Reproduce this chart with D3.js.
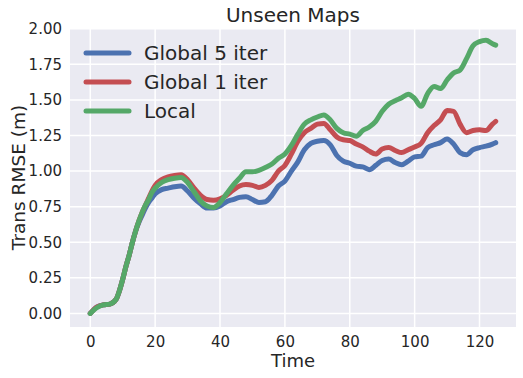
<!DOCTYPE html>
<html>
<head>
<meta charset="utf-8">
<script src="https://cdn.jsdelivr.net/npm/d3@7"></script>
<style>
  body { margin: 0; background: #fff; }
  text { font-family: "DejaVu Sans", sans-serif; fill: #262626; }
</style>
</head>
<body>
<div id="canvas"></div>
<script>
// data
const times = [0, 2, 4, 6, 8, 9, 10, 11, 12, 13, 14, 15, 16, 17, 18, 19, 20, 22, 24, 26, 28, 30, 32, 34, 36, 38,
  40, 42, 44, 46, 48, 50, 52, 54, 56, 58, 60, 62, 64, 66, 68, 70, 72, 74, 76, 78, 80, 82, 84, 86, 88, 90,
  92, 94, 96, 98, 100, 102, 104, 106, 108, 110, 112, 114, 116, 118, 120, 122, 124, 125];

const global5 = [0, 0.045, 0.06, 0.065, 0.10, 0.16, 0.24, 0.33, 0.41, 0.50, 0.58, 0.64, 0.69, 0.74, 0.78, 0.81, 0.84, 0.87, 0.88, 0.89, 0.895, 0.86, 0.81, 0.77, 0.74, 0.74,
  0.755, 0.785, 0.80, 0.815, 0.82, 0.80, 0.78, 0.785, 0.83, 0.895, 0.93, 1.00, 1.065, 1.15, 1.195, 1.21, 1.215, 1.185, 1.11, 1.07, 1.055, 1.035, 1.03, 1.01, 1.04, 1.075,
  1.085, 1.06, 1.045, 1.07, 1.10, 1.105, 1.165, 1.185, 1.20, 1.225, 1.19, 1.13, 1.115, 1.15, 1.165, 1.175, 1.19, 1.20];

const global1 = [0, 0.045, 0.06, 0.065, 0.10, 0.16, 0.24, 0.33, 0.41, 0.50, 0.58, 0.65, 0.71, 0.76, 0.81, 0.86, 0.90, 0.94, 0.96, 0.97, 0.975, 0.94, 0.88, 0.83, 0.80, 0.795,
  0.805, 0.83, 0.865, 0.895, 0.905, 0.90, 0.885, 0.90, 0.935, 1.00, 1.04, 1.12, 1.21, 1.27, 1.30, 1.33, 1.335, 1.29, 1.24, 1.22, 1.215, 1.19, 1.17, 1.14, 1.12, 1.155,
  1.165, 1.145, 1.13, 1.15, 1.17, 1.195, 1.27, 1.32, 1.36, 1.425, 1.42, 1.33, 1.27, 1.285, 1.29, 1.285, 1.33, 1.35];

const local = [0, 0.04, 0.06, 0.065, 0.10, 0.16, 0.24, 0.33, 0.41, 0.50, 0.58, 0.65, 0.71, 0.76, 0.80, 0.85, 0.88, 0.92, 0.94, 0.95, 0.955, 0.92, 0.855, 0.79, 0.755, 0.745,
  0.78, 0.84, 0.90, 0.95, 0.995, 0.995, 1.005, 1.025, 1.05, 1.09, 1.12, 1.18, 1.26, 1.33, 1.36, 1.38, 1.395, 1.36, 1.30, 1.27, 1.26, 1.245, 1.285, 1.31, 1.35, 1.42,
  1.47, 1.495, 1.515, 1.54, 1.51, 1.455, 1.545, 1.595, 1.58, 1.64, 1.69, 1.71, 1.79, 1.88, 1.91, 1.92, 1.895, 1.885];

const seriesNames = ["Global 5 iter", "Global 1 iter", "Local"];
const seriesColors = ["#4C72B0", "#C44E52", "#55A868"];
const xTicks = [0, 20, 40, 60, 80, 100, 120];
const yTicks = [0, 0.25, 0.5, 0.75, 1.0, 1.25, 1.5, 1.75, 2.0];

const width = 523;
const height = 378;
const margin = { top: 28, left: 70, bottom: 51, right: 7 };
const innerWidth = width - margin.left - margin.right;
const innerHeight = height - margin.top - margin.bottom;

const svg = d3.select("#canvas").append("svg")
  .attr("width", width)
  .attr("height", height);

const x = d3.scaleLinear().domain([-6.25, 131.25]).range([0, innerWidth]);
const y = d3.scaleLinear().domain([-0.0955, 2.0055]).range([innerHeight, 0]);

const g = svg.append("g").attr("transform", `translate(${margin.left},${margin.top})`);

g.append("rect")
  .attr("width", innerWidth)
  .attr("height", innerHeight)
  .attr("fill", "#EAEAF2");

// grid
g.selectAll(".vgrid").data(xTicks).enter().append("line")
  .attr("x1", d => x(d)).attr("x2", d => x(d))
  .attr("y1", 0).attr("y2", innerHeight)
  .attr("stroke", "#fff").attr("stroke-width", 1.5);

g.selectAll(".hgrid").data(yTicks).enter().append("line")
  .attr("y1", d => y(d)).attr("y2", d => y(d))
  .attr("x1", 0).attr("x2", innerWidth)
  .attr("stroke", "#fff").attr("stroke-width", 1.5);

// axes (no ticks / domain, seaborn style)
const xAxis = g.append("g")
  .attr("transform", `translate(0, ${innerHeight})`)
  .call(d3.axisBottom(x).tickValues(xTicks).tickSize(0).tickPadding(9));
const yAxis = g.append("g")
  .call(d3.axisLeft(y).tickValues(yTicks).tickFormat(d3.format(".2f")).tickSize(0).tickPadding(8));

[xAxis, yAxis].forEach(a => {
  a.select(".domain").remove();
  a.selectAll("text").style("font-family", "DejaVu Sans, sans-serif").style("font-size", "15px").attr("fill", "#262626");
});

// lines
const rows = [global5, global1, local];
const line = d3.line()
  .x((d, i) => x(times[i]))
  .y(d => y(d))
  .curve(d3.curveMonotoneX);

g.selectAll(".series").data(rows).enter().append("path")
  .attr("d", d => line(d))
  .attr("fill", "none")
  .attr("stroke", (d, i) => seriesColors[i])
  .attr("stroke-width", 5)
  .attr("stroke-linejoin", "round")
  .attr("stroke-linecap", "round");

// legend
const legend = g.append("g").attr("transform", "translate(16, 25)");
seriesNames.forEach((name, i) => {
  const row = legend.append("g").attr("transform", `translate(0, ${i * 29})`);
  row.append("line")
    .attr("x1", 0).attr("x2", 43)
    .attr("stroke", seriesColors[i]).attr("stroke-width", 5)
    .attr("stroke-linecap", "round");
  row.append("text")
    .attr("x", 58).attr("y", 0)
    .attr("dy", "0.36em")
    .style("font-size", "20px")
    .text(name);
});

// title and labels
svg.append("text")
  .attr("x", margin.left + innerWidth / 2)
  .attr("y", 21.5)
  .attr("text-anchor", "middle")
  .style("font-size", "20px")
  .text("Unseen Maps");

svg.append("text")
  .attr("x", margin.left + innerWidth / 2)
  .attr("y", 367)
  .attr("text-anchor", "middle")
  .style("font-size", "18px")
  .text("Time");

svg.append("text")
  .attr("transform", `translate(25, ${margin.top + innerHeight / 2}) rotate(-90)`)
  .attr("text-anchor", "middle")
  .style("font-size", "18.5px")
  .text("Trans RMSE (m)");
</script>
</body>
</html>
